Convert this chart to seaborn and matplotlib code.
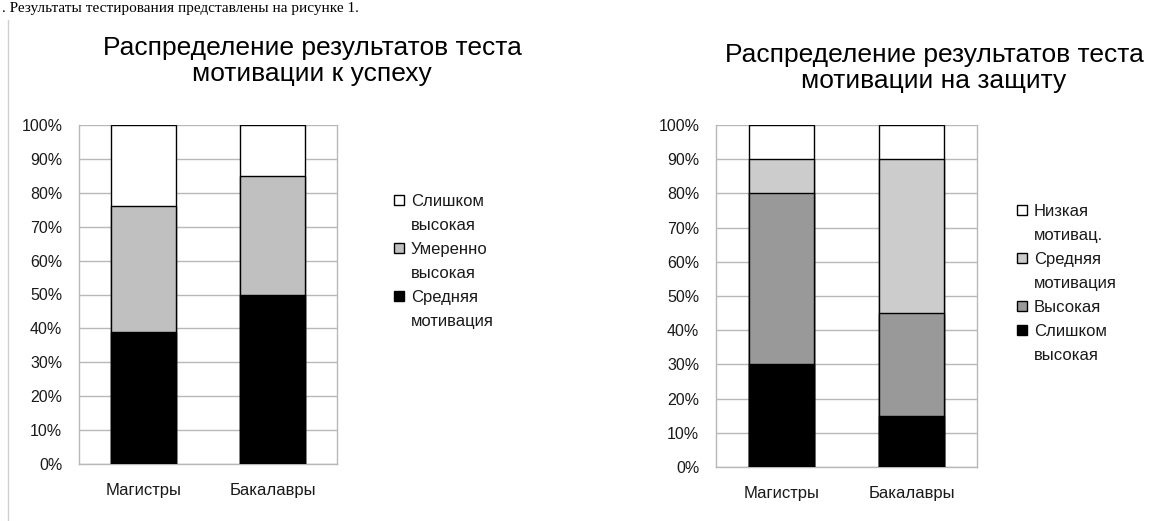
import matplotlib
matplotlib.use("Agg")
import matplotlib.pyplot as plt
import seaborn as sns
import pandas as pd
import numpy as np
from matplotlib.lines import Line2D
from matplotlib.patches import Patch

# ---------------- data ----------------
groups = ["Магистры", "Бакалавры"]

# chart 1: motivation to success (bottom -> top)
c1_series = ["Средняя\nмотивация", "Умеренно\nвысокая", "Слишком\nвысокая"]
c1_colors = ["#000000", "#c0c0c0", "#ffffff"]
c1_mid = [39, 50]
c1_mod_high = [37, 35]
c1_too_high = [24, 15]

# chart 2: motivation to defence (bottom -> top)
c2_series = ["Слишком\nвысокая", "Высокая", "Средняя\nмотивация", "Низкая\nмотивац."]
c2_colors = ["#000000", "#999999", "#cccccc", "#ffffff"]
c2_too_high = [30, 15]
c2_high = [50, 30]
c2_mid = [10, 45]
c2_low = [10, 10]

title1 = "Распределение результатов теста\nмотивации к успеху"
title2 = "Распределение результатов теста\nмотивации на защиту"
yticks = [0, 10, 20, 30, 40, 50, 60, 70, 80, 90, 100]
ytick_labels = [f"{v}%" for v in yticks]
top_text = ". Результаты тестирования представлены на рисунке 1."

# ---------------- style ----------------
sns.set_theme(style="white")
plt.rcParams["font.family"] = ["Liberation Sans", "DejaVu Sans"]

W, H = 1150, 521
fig = plt.figure(figsize=(W / 100, H / 100), dpi=100)

def px_axes(x0, y0, x1, y1):
    return fig.add_axes([x0 / W, 1 - y1 / H, (x1 - x0) / W, (y1 - y0) / H])

grid_c = "#b8b8b8"
txt_c = "#1a1a1a"

def draw_chart(ax, series_vals, series_names, colors, bar_width):
    cum = np.zeros(len(groups))
    cums = []
    for vals in series_vals:
        cum = cum + np.array(vals)
        cums.append(cum.copy())
    # draw from top cumulative layer down
    for name, c, col in reversed(list(zip(series_names, cums, colors))):
        d = pd.DataFrame({"group": groups, "value": c})
        sns.barplot(data=d, x="group", y="value", color=col, ax=ax,
                    width=bar_width, edgecolor="#000000", linewidth=1.0,
                    saturation=1, zorder=3)
    ax.set_ylim(0, 100)
    ax.set_xlim(-0.5, 1.5)
    ax.set_yticks(yticks)
    ax.set_yticklabels(ytick_labels, fontsize=11.5, color=txt_c)
    ax.set_xlabel("")
    ax.set_ylabel("")
    ax.tick_params(axis="x", which="major", length=0, pad=14, labelsize=12,
                   labelcolor=txt_c)
    ax.set_xticks([-0.5, 0.5, 1.5], minor=True)
    ax.tick_params(axis="x", which="minor", length=8, width=1, color=grid_c,
                   direction="out")
    ax.tick_params(axis="y", which="major", length=10, width=1, color=grid_c,
                   direction="out", pad=2)
    ax.yaxis.grid(True, color=grid_c, linewidth=1, zorder=0)
    ax.set_axisbelow(True)
    for s in ax.spines.values():
        s.set_color(grid_c)
        s.set_linewidth(1)
    ax.spines["top"].set_visible(False)
    return colors

ax1 = px_axes(79, 125, 337, 464)
draw_chart(ax1, [c1_mid, c1_mod_high, c1_too_high], c1_series, c1_colors, 0.504)
ax2 = px_axes(716, 125, 977, 467)
draw_chart(ax2, [c2_too_high, c2_high, c2_mid, c2_low], c2_series, c2_colors, 0.5)

def add_legend(colors, labels, x, y):
    # one legend row per text line; marker only on the first line of an entry
    hs, ls = [], []
    for col, lab in zip(reversed(colors), reversed(labels)):
        lines = lab.split("\n")
        hs.append(Patch(facecolor=col, edgecolor="#000000", linewidth=1.0))
        ls.append(lines[0])
        for extra in lines[1:]:
            hs.append(Patch(facecolor="none", edgecolor="none"))
            ls.append(extra)
    leg = fig.legend(hs, ls,
                     loc="upper left", bbox_to_anchor=(x / W, 1 - y / H),
                     bbox_transform=fig.transFigure, frameon=False,
                     fontsize=12, handlelength=0.6, handleheight=0.6,
                     handletextpad=0.4, labelspacing=0.54, borderpad=0,
                     borderaxespad=0)
    for t in leg.get_texts():
        t.set_color(txt_c)
    return leg

add_legend(c1_colors, c1_series, 394, 194)
add_legend(c2_colors, c2_series, 1017, 204)

fig.text(312 / W, 1 - 61 / H, title1, ha="center", va="center", fontsize=19,
         linespacing=1.15, color="#000000")
fig.text(934 / W, 1 - 68 / H, title2, ha="center", va="center", fontsize=19,
         linespacing=1.15, color="#000000")

fig.text(2 / W, 1 - 2 / H, top_text, ha="left", va="top", fontsize=11,
         family=["Liberation Serif", "DejaVu Serif"], color="#000000")

fig.add_artist(Line2D([8 / W, 8 / W], [0, 1 - 20 / H], transform=fig.transFigure,
                      color="#d0d0d0", linewidth=1))

fig.savefig("out.png", dpi=100)
